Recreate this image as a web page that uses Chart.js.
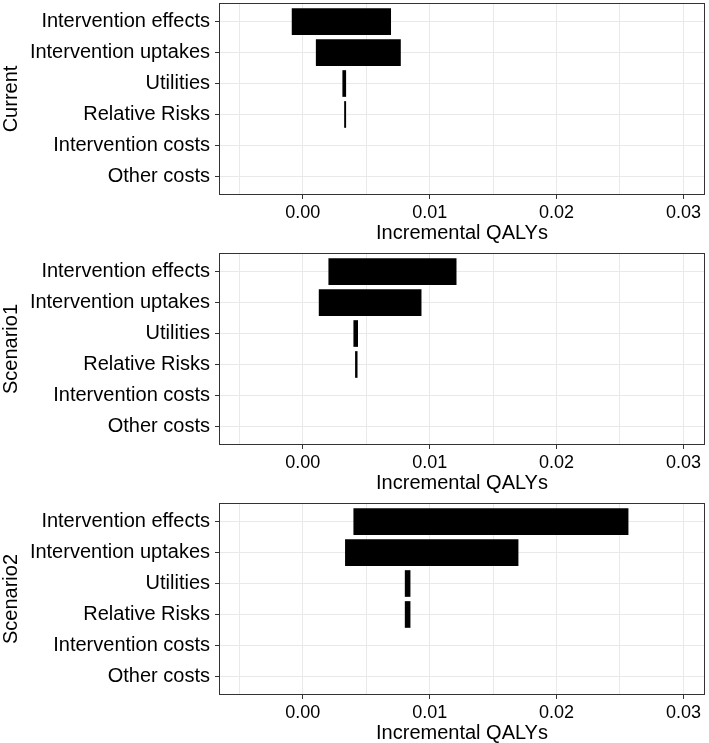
<!DOCTYPE html>
<html>
<head>
<meta charset="utf-8">
<script src="https://cdn.jsdelivr.net/npm/chart.js@4.4.1/dist/chart.umd.min.js"></script>
<style>
  html, body { margin: 0; padding: 0; background: #fff; overflow: hidden; width: 709px; height: 743px; }
  canvas { position: absolute; left: 0; }
</style>
</head>
<body>
<canvas id="panel0" width="709" height="250" style="top:0px"></canvas>
<canvas id="panel1" width="709" height="250" style="top:250px"></canvas>
<canvas id="panel2" width="709" height="250" style="top:500px"></canvas>
<script>
// Parameter rows, top to bottom
const categories = ['Intervention effects', 'Intervention uptakes', 'Utilities', 'Relative Risks', 'Intervention costs', 'Other costs'];
const scenarios = ['Current', 'Scenario1', 'Scenario2'];

// Low / high incremental QALYs per row (null = no bar)
const currentLow    = [-0.00084, 0.00106, 0.00315, 0.00329, null, null];
const currentHigh   = [ 0.00693, 0.00770, 0.00339, 0.00339, null, null];
const scenario1Low  = [ 0.00205, 0.00129, 0.00402, 0.00415, null, null];
const scenario1High = [ 0.01209, 0.00933, 0.00433, 0.00429, null, null];
const scenario2Low  = [ 0.00402, 0.00336, 0.00807, 0.00807, null, null];
const scenario2High = [ 0.02564, 0.01697, 0.00846, 0.00846, null, null];

// x axis ticks (majors get labels, the rest are minor gridlines)
const xTicks = [-0.005, 0, 0.005, 0.01, 0.015, 0.02, 0.025, 0.03];
const xMajor = [0, 0.01, 0.02, 0.03];

const lows = [currentLow, scenario1Low, scenario2Low];
const highs = [currentHigh, scenario1High, scenario2High];

Chart.defaults.font.family = "'Liberation Sans', Arial, sans-serif";
Chart.defaults.color = '#000';

function isMajor(v) {
    return xMajor.some(m => Math.abs(m - v) < 1e-9);
}

// Draws the full panel border like ggplot's theme_bw
const panelBorder = {
    id: 'panelBorder',
    afterDraw(chart) {
        const a = chart.chartArea;
        const ctx = chart.ctx;
        ctx.save();
        ctx.strokeStyle = '#333';
        ctx.lineWidth = 1;
        ctx.strokeRect(Math.round(a.left) + 0.5, Math.round(a.top) + 0.5,
            Math.round(a.right - a.left) - 1, Math.round(a.bottom - a.top) - 1);
        ctx.restore();
    }
};

scenarios.forEach(function(name, p) {
    const data = categories.map((c, i) =>
        lows[p][i] === null ? null : { x: [lows[p][i], highs[p][i]], y: i });

    new Chart(document.getElementById('panel' + p), {
        type: 'bar',
        data: {
            datasets: [{
                data: data.filter(d => d !== null),
                backgroundColor: '#000',
                borderWidth: 0,
                barThickness: 26
            }]
        },
        options: {
            indexAxis: 'y',
            responsive: false,
            animation: false,
            layout: { padding: { top: 3, right: 4, left: 0, bottom: 0 } },
            plugins: { legend: { display: false }, tooltip: { enabled: false } },
            scales: {
                x: {
                    type: 'linear',
                    min: -0.0066,
                    max: 0.0317,
                    afterBuildTicks: s => { s.ticks = xTicks.map(v => ({ value: v })); },
                    afterFit: s => { s.height = 55; s.paddingLeft = 0; s.paddingRight = 0; },
                    border: { display: false },
                    grid: {
                        color: '#e9e9e9',
                        tickColor: ctx => isMajor(ctx.tick.value) ? '#333' : 'rgba(0,0,0,0)',
                        tickLength: 4
                    },
                    ticks: {
                        autoSkip: false,
                        maxRotation: 0,
                        padding: 3,
                        font: { size: 18 },
                        callback: v => isMajor(v) ? v.toFixed(2) : ''
                    },
                    title: {
                        display: true,
                        text: 'Incremental QALYs',
                        font: { size: 20, lineHeight: 1 },
                        padding: { top: 0, bottom: 7 }
                    }
                },
                y: {
                    type: 'linear',
                    reverse: true,
                    offset: false,
                    min: -0.6,
                    max: 5.6,
                    afterBuildTicks: s => { s.ticks = categories.map((c, i) => ({ value: i })); },
                    afterFit: s => { s.width = 219; s.paddingTop = 0; s.paddingBottom = 0; },
                    border: { display: false },
                    grid: { offset: false, color: '#e9e9e9', tickColor: '#333', tickLength: 4 },
                    ticks: {
                        autoSkip: false,
                        padding: 5,
                        font: { size: 20 },
                        callback: v => categories[v]
                    },
                    title: {
                        display: true,
                        text: name,
                        font: { size: 20, lineHeight: 1 },
                        padding: { top: 1, bottom: 0 }
                    }
                }
            }
        },
        plugins: [panelBorder]
    });
});
</script>
</body>
</html>
